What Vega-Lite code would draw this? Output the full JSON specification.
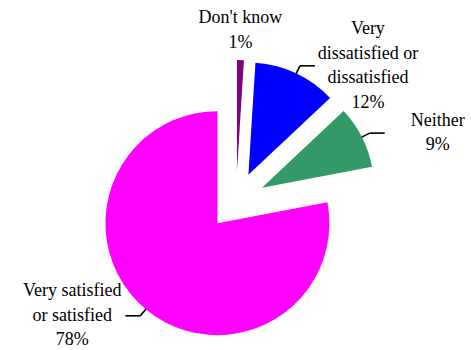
{
  "$schema": "https://vega.github.io/schema/vega-lite/v6.json",
  "width": 471,
  "height": 350,
  "padding": 0,
  "autosize": {"type": "fit", "contains": "padding"},
  "background": "white",
  "config": {"view": {"stroke": null}},
  "data": {
    "values": [
      {"order": 1, "category": "Don't know", "pct": 1},
      {"order": 2, "category": "Very\ndissatisfied or\ndissatisfied", "pct": 12},
      {"order": 3, "category": "Neither", "pct": 9},
      {"order": 4, "category": "Very satisfied\nor satisfied", "pct": 78}
    ]
  },
  "transform": [
    {"window": [{"op": "sum", "field": "pct", "as": "cum"}], "sort": [{"field": "order"}], "frame": [null, 0]},
    {"joinaggregate": [{"op": "sum", "field": "pct", "as": "total"}]},
    {"calculate": "2 * PI * (datum.cum - datum.pct) / datum.total", "as": "a0"},
    {"calculate": "2 * PI * datum.cum / datum.total", "as": "a1"},
    {"calculate": "(datum.a0 + datum.a1) / 2", "as": "mid"},
    {"calculate": "sin(datum.mid)", "as": "ux"},
    {"calculate": "cos(datum.mid)", "as": "uy"},
    {"calculate": "datum.ux > 0 ? 1 : -1", "as": "side"},
    {"calculate": "0.26 * datum.ux", "as": "ox"},
    {"calculate": "0.26 * datum.uy", "as": "oy"},
    {"calculate": "1.26 * datum.ux", "as": "ex"},
    {"calculate": "1.26 * datum.uy", "as": "ey"},
    {"calculate": "1.34 * datum.ux", "as": "lx"},
    {"calculate": "1.34 * datum.uy", "as": "ly"},
    {"calculate": "datum.lx + 0.134 * datum.side", "as": "tx"},
    {"calculate": "datum.tx + 0.473 * datum.side", "as": "labx"},
    {"calculate": "datum.category + '\\n' + datum.pct + '%'", "as": "labelText"},
    {"calculate": "length(split(datum.labelText, '\\n'))", "as": "nLines"},
    {"calculate": "datum.ly + (datum.nLines - 1) / 2 * 0.21875", "as": "sideY"},
    {"calculate": "datum.ey + 0.08 + (datum.nLines - 1) * 0.21875", "as": "topY"}
  ],
  "layer": [
    {
      "mark": {"type": "arc", "outerRadius": 112},
      "encoding": {
        "x": {"field": "ox", "type": "quantitative", "scale": {"domain": [-2.1071, 2.0982], "nice": false, "zero": false}, "axis": null},
        "y": {"field": "oy", "type": "quantitative", "scale": {"domain": [-1.3214, 1.8036], "nice": false, "zero": false}, "axis": null},
        "theta": {"field": "a0", "type": "quantitative", "scale": null},
        "theta2": {"field": "a1"},
        "color": {
          "field": "order",
          "type": "nominal",
          "scale": {"domain": [1, 2, 3, 4], "range": ["#800080", "#0000FF", "#339966", "#FF00FF"]},
          "legend": null
        }
      }
    },
    {
      "transform": [{"filter": "abs(datum.ux) > 0.3"}],
      "mark": {"type": "rule", "color": "black", "strokeWidth": 1.6},
      "encoding": {
        "x": {"field": "ex", "type": "quantitative"},
        "y": {"field": "ey", "type": "quantitative"},
        "x2": {"field": "lx"},
        "y2": {"field": "ly"}
      }
    },
    {
      "transform": [{"filter": "abs(datum.ux) > 0.3"}],
      "mark": {"type": "rule", "color": "black", "strokeWidth": 1.6},
      "encoding": {
        "x": {"field": "lx", "type": "quantitative"},
        "y": {"field": "ly", "type": "quantitative"},
        "x2": {"field": "tx"},
        "y2": {"field": "ly"}
      }
    },
    {
      "transform": [{"filter": "abs(datum.ux) > 0.3"}],
      "mark": {"type": "text", "font": "Liberation Serif, Times New Roman, DejaVu Serif, serif", "fontSize": 18, "color": "black", "align": "center", "baseline": "middle", "lineBreak": "\n", "lineHeight": 24.5},
      "encoding": {
        "x": {"field": "labx", "type": "quantitative"},
        "y": {"field": "sideY", "type": "quantitative"},
        "text": {"field": "labelText"}
      }
    },
    {
      "transform": [{"filter": "abs(datum.ux) <= 0.3"}],
      "mark": {"type": "text", "font": "Liberation Serif, Times New Roman, DejaVu Serif, serif", "fontSize": 18, "color": "black", "align": "center", "baseline": "bottom", "lineBreak": "\n", "lineHeight": 24.5},
      "encoding": {
        "x": {"field": "ex", "type": "quantitative"},
        "y": {"field": "topY", "type": "quantitative"},
        "text": {"field": "labelText"}
      }
    }
  ]
}
